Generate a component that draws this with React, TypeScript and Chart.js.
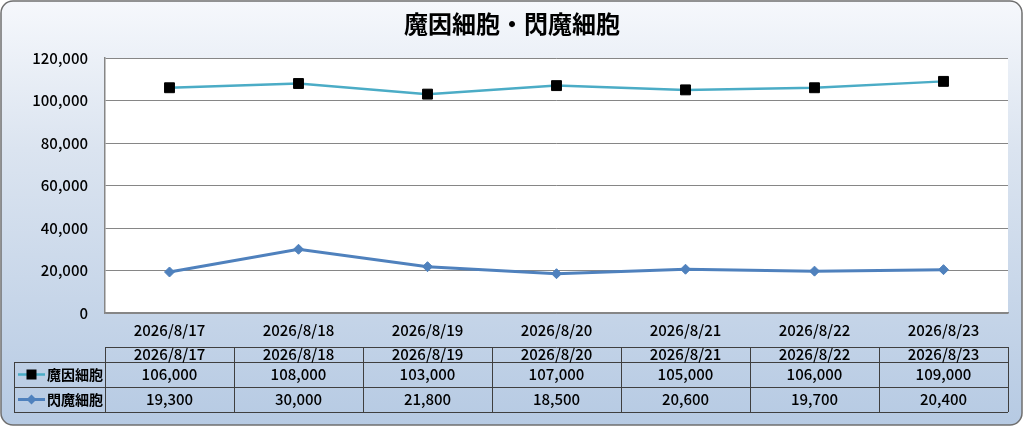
import React, { useEffect, useRef } from "react";
import { Chart, registerables } from "chart.js";

Chart.register(...registerables);

const chartTitle = "魔因細胞・閃魔細胞";
const categories = ["2026/8/17", "2026/8/18", "2026/8/19", "2026/8/20", "2026/8/21", "2026/8/22", "2026/8/23"];
const seriesNames = ["魔因細胞", "閃魔細胞"];
const mainValues = [106000, 108000, 103000, 107000, 105000, 106000, 109000];
const flashValues = [19300, 30000, 21800, 18500, 20600, 19700, 20400];
const yMin = 0;
const yMax = 120000;
const yStep = 20000;

const FONT = '"Noto Sans CJK JP", "Noto Sans", sans-serif';
const COLORS = {
  main: "#4bacc6",
  mainMarker: "#000000",
  flash: "#4f81bd",
  grid: "#868686",
  table: "#3f3f3f",
};

const fmt = (v: number) => v.toLocaleString("en-US");

function roundRect(ctx: CanvasRenderingContext2D, x: number, y: number, w: number, h: number, r: number) {
  ctx.beginPath();
  ctx.moveTo(x + r, y);
  ctx.lineTo(x + w - r, y);
  ctx.arcTo(x + w, y, x + w, y + r, r);
  ctx.lineTo(x + w, y + h - r);
  ctx.arcTo(x + w, y + h, x + w - r, y + h, r);
  ctx.lineTo(x + r, y + h);
  ctx.arcTo(x, y + h, x, y + h - r, r);
  ctx.lineTo(x, y + r);
  ctx.arcTo(x, y, x + r, y, r);
  ctx.closePath();
}

const backgroundPlugin = {
  id: "bgPanel",
  beforeDraw(chart: any) {
    const { ctx, width, height, chartArea } = chart;
    ctx.save();
    const g = ctx.createLinearGradient(0, 0, 0, height);
    g.addColorStop(0, "#f6f8fc");
    g.addColorStop(0.35, "#dbe4f0");
    g.addColorStop(1, "#b6cae3");
    roundRect(ctx, 1, 1, width - 3, height - 3, 12);
    ctx.fillStyle = g;
    ctx.fill();
    ctx.lineWidth = 1.5;
    ctx.strokeStyle = "#6f6f6f";
    ctx.stroke();
    ctx.fillStyle = "#ffffff";
    ctx.fillRect(chartArea.left, chartArea.top, chartArea.right - chartArea.left, chartArea.bottom - chartArea.top);
    // title
    ctx.fillStyle = "#000000";
    ctx.font = `bold 24px ${FONT}`;
    ctx.textAlign = "center";
    ctx.textBaseline = "middle";
    ctx.fillText(chartTitle, width / 2, 24);
    ctx.restore();
  },
};

function drawMarker(ctx: CanvasRenderingContext2D, kind: number, x: number, y: number) {
  if (kind === 0) {
    ctx.fillStyle = COLORS.mainMarker;
    ctx.fillRect(x - 5, y - 5, 10, 10);
  } else {
    ctx.fillStyle = COLORS.flash;
    ctx.beginPath();
    ctx.moveTo(x, y - 5);
    ctx.lineTo(x + 5, y);
    ctx.lineTo(x, y + 5);
    ctx.lineTo(x - 5, y);
    ctx.closePath();
    ctx.fill();
  }
}

const tablePlugin = {
  id: "dataTable",
  afterDraw(chart: any) {
    const { ctx, chartArea } = chart;
    const xs = chart.scales.x;
    const left = chartArea.left;
    const right = chartArea.right;
    const n = categories.length;
    const colW = (right - left) / n;
    const hTop = chartArea.bottom + 34;
    const r1Top = hTop + 15;
    const r2Top = r1Top + 25;
    const bot = r2Top + 25;
    const legLeft = 14;
    ctx.save();
    ctx.strokeStyle = COLORS.table;
    ctx.lineWidth = 1;
    const hl = (y: number, x0: number, x1: number) => {
      ctx.beginPath();
      ctx.moveTo(x0, Math.round(y) + 0.5);
      ctx.lineTo(x1, Math.round(y) + 0.5);
      ctx.stroke();
    };
    const vl = (x: number, y0: number, y1: number) => {
      ctx.beginPath();
      ctx.moveTo(Math.round(x) + 0.5, y0);
      ctx.lineTo(Math.round(x) + 0.5, y1);
      ctx.stroke();
    };
    hl(hTop, left, right);
    hl(r1Top, legLeft, right);
    hl(r2Top, legLeft, right);
    hl(bot, legLeft, right);
    vl(legLeft, r1Top, bot);
    for (let i = 0; i <= n; i++) vl(left + i * colW, hTop, bot);

    ctx.fillStyle = "#000";
    ctx.textAlign = "center";
    ctx.textBaseline = "middle";
    ctx.font = `500 15px ${FONT}`;
    const rows = [mainValues, flashValues];
    categories.forEach((c, i) => {
      const cx = xs.getPixelForValue(i);
      ctx.fillText(c, cx, hTop + 7.5);
      ctx.fillText(fmt(rows[0][i]), cx, r1Top + 12.5);
      ctx.fillText(fmt(rows[1][i]), cx, r2Top + 12.5);
    });

    // legend keys
    const rowCenters = [r1Top + 12.5, r2Top + 12.5];
    rowCenters.forEach((cy, k) => {
      ctx.strokeStyle = k === 0 ? COLORS.main : COLORS.flash;
      ctx.lineWidth = k === 0 ? 2.5 : 3;
      ctx.beginPath();
      ctx.moveTo(18, cy);
      ctx.lineTo(45, cy);
      ctx.stroke();
      drawMarker(ctx, k, 31.5, cy);
      ctx.fillStyle = "#000";
      ctx.textAlign = "left";
      ctx.font = `bold 14px ${FONT}`;
      ctx.fillText(seriesNames[k], 47, cy);
    });
    ctx.restore();
  },
};

export default function App() {
  const ref = useRef<HTMLCanvasElement | null>(null);
  useEffect(() => {
    document.body.style.margin = "0";
    const canvas = ref.current;
    if (!canvas) return;
    const chart = new Chart(canvas, {
      type: "line",
      data: {
        labels: categories,
        datasets: [
          {
            label: seriesNames[0],
            data: mainValues,
            borderColor: COLORS.main,
            borderWidth: 2.5,
            pointStyle: "rect",
            pointRadius: 7,
            pointBackgroundColor: COLORS.mainMarker,
            pointBorderColor: COLORS.mainMarker,
            pointBorderWidth: 1,
            tension: 0,
          },
          {
            label: seriesNames[1],
            data: flashValues,
            borderColor: COLORS.flash,
            borderWidth: 3,
            pointStyle: "rectRot",
            pointRadius: 5,
            pointBackgroundColor: COLORS.flash,
            pointBorderColor: COLORS.flash,
            pointBorderWidth: 1,
            tension: 0,
          },
        ],
      },
      options: {
        responsive: false,
        animation: false,
        devicePixelRatio: 1,
        layout: { padding: { left: 0, top: 58, right: 16, bottom: 0 } },
        plugins: {
          legend: { display: false },
          title: { display: false },
          tooltip: { enabled: false },
        },
        scales: {
          x: {
            offset: true,
            grid: { display: false, drawTicks: false },
            border: { display: true, color: COLORS.grid, width: 1.5 },
            ticks: { color: "#000", font: { family: FONT, size: 15, weight: 500 }, padding: 8, maxRotation: 0 },
            afterFit: (s: any) => { s.height = 114; },
          },
          y: {
            min: yMin,
            max: yMax,
            ticks: {
              stepSize: yStep,
              color: "#000",
              font: { family: FONT, size: 15, weight: 500 },
              padding: 17,
              callback: (v: any) => fmt(Number(v)),
            },
            grid: { color: COLORS.grid, lineWidth: 1, drawTicks: false },
            border: { display: true, color: COLORS.grid, width: 1.5 },
            afterFit: (s: any) => { s.width = 105; },
          },
        },
      },
      plugins: [backgroundPlugin, tablePlugin],
    });
    return () => chart.destroy();
  }, []);
  return <canvas ref={ref} width={1024} height={427} style={{ display: "block" }} />;
}
